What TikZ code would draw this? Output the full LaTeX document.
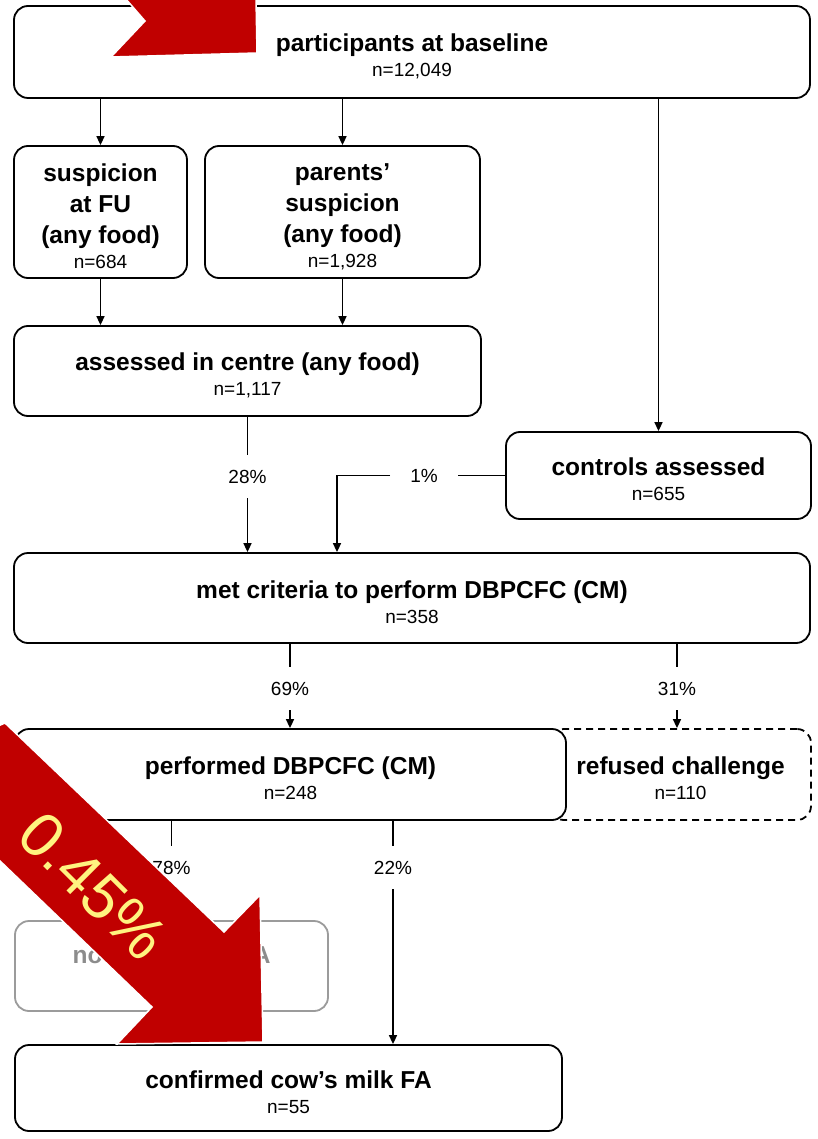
\documentclass[tikz,border=0pt]{standalone}
\usepackage{fontspec}
\setmainfont{Liberation Sans}
\usetikzlibrary{arrows.meta}

\definecolor{darkred}{RGB}{192,0,0}
\definecolor{paleyellow}{RGB}{255,243,128}
\definecolor{greyline}{RGB}{155,155,155}
\definecolor{greytext}{RGB}{140,140,140}

% title (possibly several lines) and count
\newcommand{\boxtxt}[2]{\rule{0pt}{26pt}#1\\[-6pt]{\fontsize{19}{22}\selectfont\mdseries n=#2}}

\begin{document}
\begin{tikzpicture}[x=1pt, y=-1pt,
    box/.style={draw, rounded corners=14pt, line width=1.8pt, fill=white, align=center,
                font=\fontsize{24.5}{31}\selectfont\bfseries, inner sep=0pt},
    pct/.style={font=\fontsize{19}{22}\selectfont, inner xsep=20pt, inner ysep=15pt},
    con/.style={line width=1.6pt},
    arr/.style={con, -{Triangle[length=9pt,width=8pt]}},
    banner/.style={fill=darkred, draw=white, line width=1.5pt, line join=miter}]

\useasboundingbox (0,0) rectangle (817,1139);

% boxes
\node[box, minimum width=796pt, minimum height=92pt] (base) at (412,52)
    {\boxtxt{participants at baseline}{12,049}};
\node[box, minimum width=173pt, minimum height=132pt] (fu) at (100.5,212)
    {\boxtxt{suspicion\\at FU\\(any food)}{684}};
\node[box, minimum width=275pt, minimum height=132pt] (par) at (342.5,212)
    {\boxtxt{parents’\\suspicion\\(any food)}{1,928}};
\node[box, minimum width=467pt, minimum height=90pt] (cen) at (247.5,371)
    {\boxtxt{assessed in centre (any food)}{1,117}};
\node[box, minimum width=305pt, minimum height=87pt] (ctl) at (658.5,475.5)
    {\boxtxt{controls assessed}{655}};
\node[box, minimum width=796pt, minimum height=90pt] (met) at (412,598)
    {\boxtxt{met criteria to perform DBPCFC (CM)}{358}};
\node[box, dash pattern=on 7pt off 5pt, minimum width=261pt, minimum height=91pt] (ref) at (680.5,774.5)
    {\boxtxt{refused challenge}{110}};
\node[box, minimum width=551pt, minimum height=91pt] (perf) at (290.5,774.5)
    {\boxtxt{performed DBPCFC (CM)}{248}};
\node[box, draw=greyline, text=greytext, minimum width=313pt, minimum height=90pt] (nofa) at (171.5,966)
    {\raisebox{22pt}{no cow’s milk FA}};
\node[box, minimum width=547pt, minimum height=86pt] (conf) at (288.5,1088)
    {\boxtxt{confirmed cow’s milk FA}{55}};

% percentages
\foreach \name/\x/\y/\txt in {p28/247.5/476.5/28, p1/424/475.5/1, p69/290/688.5/69,
                              p31/677/688.5/31, p78/171.5/867.5/78, p22/393/867.5/22} {
    \node[pct] (\name) at (\x,\y) {\txt\%};
}
\coordinate (k1) at (337,475.5);

% connectors
\draw[arr] (fu.north |- base.south) -- (fu.north);
\draw[arr] (par.north |- base.south) -- (par.north);
\draw[arr] (ctl.north |- base.south) -- (ctl.north);
\draw[arr] (fu.south) -- (fu.south |- cen.north);
\draw[arr] (par.south) -- (par.south |- cen.north);

\draw[con] (cen.south) -- (p28);
\draw[arr] (p28) -- (p28 |- met.north);
\draw[con] (ctl.west) -- (p1.east);
\draw[arr] (p1.west) -- (k1) -- (k1 |- met.north);

\draw[con] (p69 |- met.south) -- (p69);
\draw[arr] (p69) -- (p69 |- perf.north);
\draw[con] (p31 |- met.south) -- (p31);
\draw[arr] (p31) -- (p31 |- ref.north);

\draw[con] (p78 |- perf.south) -- (p78);
\draw[arr] (p78) -- (nofa.north);
\draw[con] (p22 |- perf.south) -- (p22);
\draw[arr] (p22) -- (p22 |- conf.north);

% red overlay arrows
\filldraw[banner] (125,-2) -- (145,21) -- (111,57) -- (257,53) -- (256,-2) -- cycle;
\filldraw[banner] (5,723) -- (224,932) -- (260,895) -- (263,1042) -- (117,1044)
    -- (152,1007) -- (-2,859) -- (-2,726) -- cycle;
\node[text=paleyellow, font=\fontsize{63}{70}\selectfont, rotate=-45, inner sep=0pt] (pct045) at (93,886) {0.45\%};

\end{tikzpicture}
\end{document}
